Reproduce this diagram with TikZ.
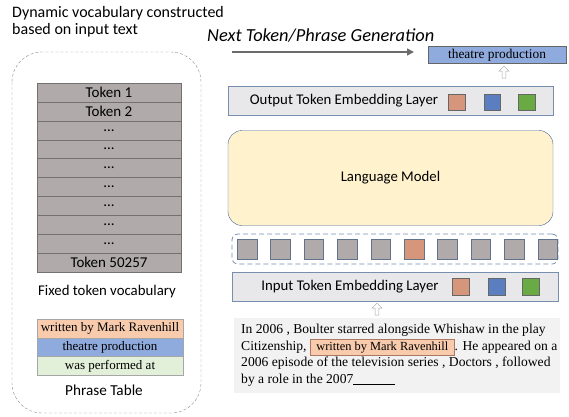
\documentclass[tikz,border=0pt]{standalone}
\usepackage{fontspec}
\setmainfont{Liberation Serif}
\newfontfamily\calibri{Carlito}
\usetikzlibrary{positioning,shapes.arrows,arrows.meta}
\definecolor{tokgray}{RGB}{176,171,170}
\definecolor{tokline}{RGB}{117,112,112}
\definecolor{phorange}{RGB}{248,203,173}
\definecolor{phblue}{RGB}{143,170,220}
\definecolor{phgreen}{RGB}{226,240,217}
\definecolor{sqorange}{RGB}{213,150,124}
\definecolor{sqblue}{RGB}{91,126,192}
\definecolor{sqgreen}{RGB}{106,170,68}
\definecolor{layerfill}{RGB}{232,232,234}
\definecolor{layerline}{RGB}{120,142,175}
\definecolor{lmfill}{RGB}{255,242,204}
\definecolor{lmline}{RGB}{65,100,150}
\definecolor{textfill}{RGB}{242,242,242}
\begin{document}
\begin{tikzpicture}[x=1pt, y=-1pt,
  tokrow/.style={draw=tokline, fill=tokgray, minimum width=144pt, minimum height=18.9pt, inner sep=0pt, outer sep=0pt, font=\calibri\fontsize{15}{16}\selectfont},
  phrow/.style={draw=gray!70, minimum width=146pt, minimum height=18.7pt, inner sep=0pt, outer sep=0pt, font=\fontsize{13}{14}\selectfont},
  layer/.style={draw=layerline, fill=layerfill, minimum width=325pt, minimum height=29pt, inner sep=0pt},
  sq/.style={draw=gray!80!black, minimum size=16.5pt, inner sep=0pt},
  seqsq/.style={draw=layerline!80!black, fill=tokgray, minimum size=19.5pt, inner sep=0pt},
  label/.style={font=\calibri\fontsize{14.8}{16}\selectfont},
  hollow/.style={single arrow, draw=gray!70, fill=white, shape border rotate=90, minimum height=12pt, minimum width=10pt, single arrow head extend=2pt, inner sep=1pt}
]
\useasboundingbox (0,0) rectangle (569,416);
% dynamic vocabulary
\node[anchor=north west, align=left, inner sep=0pt, font=\calibri\fontsize{16}{17.5}\selectfont] (title) at (12,6) {Dynamic vocabulary constructed\\based on input text};
\draw[gray!90, dash pattern=on 3pt off 2pt, rounded corners=30pt] (12,52) rectangle (201,413);
\node[tokrow] (tok1) at (109,92.5) {Token 1};
\node[tokrow, below=0pt of tok1] (tok2) {Token 2};
\node[tokrow, below=0pt of tok2] (dots1) {...};
\node[tokrow, below=0pt of dots1] (dots2) {...};
\node[tokrow, below=0pt of dots2] (dots3) {...};
\node[tokrow, below=0pt of dots3] (dots4) {...};
\node[tokrow, below=0pt of dots4] (dots5) {...};
\node[tokrow, below=0pt of dots5] (dots6) {...};
\node[tokrow, below=0pt of dots6] (dots7) {...};
\node[tokrow, below=0pt of dots7] (toklast) {Token 50257};
\node[label] (fixed) at (107,292) {Fixed token vocabulary};
\node[phrow, fill=phorange] (ph1) at (110,328.5) {written by Mark Ravenhill};
\node[phrow, fill=phblue, below=0pt of ph1] (ph2) {theatre production};
\node[phrow, fill=phgreen, below=0pt of ph2] (ph3) {was performed at};
\node[label, font=\calibri\fontsize{15.2}{16}\selectfont] (phtitle) at (104,390) {Phrase Table};
% generation
\node[anchor=west, inner sep=0pt, font=\calibri\itshape\fontsize{18.4}{19}\selectfont] (gen) at (207,36) {Next Token/Phrase Generation};
\coordinate (genL) at (232,52);
\coordinate (genR) at (414,52);
\draw[-{Triangle[length=7pt,width=7pt]}, line width=1.6pt, gray!85!black] (genL) -- (genR);
\node[draw=gray!80!black, fill=phblue, minimum width=138pt, minimum height=17pt, inner sep=0pt, font=\fontsize{13.4}{14}\selectfont] (next) at (497,55) {theatre production};
\node[hollow] (up1) at (504,73) {};
% output layer
\node[layer] (outlayer) at (390.5,101) {};
\node[label] (outtext) at (344,101) {Output Token Embedding Layer};
\node[sq, fill=sqorange] (outo) at (456.5,102) {};
\node[sq, fill=sqblue] (outb) at (492,102) {};
\node[sq, fill=sqgreen] (outg) at (526.5,102) {};
% language model
\node[draw=lmline, fill=lmfill, rounded corners=14pt, minimum width=325pt, minimum height=95pt, label] (lm) at (390.5,178) {Language Model};
% token sequence
\node[draw=layerline, dash pattern=on 5pt off 3pt, line width=0.8pt, rounded corners=6pt, minimum width=326pt, minimum height=30pt] (seq) at (395,249) {};
\node[seqsq] (s1) at (247,249) {};
\node[seqsq, right=13.5pt of s1] (s2) {};
\node[seqsq, right=13.5pt of s2] (s3) {};
\node[seqsq, right=13.5pt of s3] (s4) {};
\node[seqsq, right=13.5pt of s4] (s5) {};
\node[seqsq, right=13.5pt of s5, fill=sqorange] (s6) {};
\node[seqsq, right=13.5pt of s6] (s7) {};
\node[seqsq, right=13.5pt of s7] (s8) {};
\node[seqsq, right=13.5pt of s8] (s9) {};
\node[seqsq, right=13.5pt of s9] (s10) {};
% input layer
\node[layer, minimum width=326pt] (inlayer) at (395,286.5) {};
\node[label] (intext) at (350,287) {Input Token Embedding Layer};
\node[sq, fill=sqorange] (ino) at (460.5,286.5) {};
\node[sq, fill=sqblue] (inb) at (496.5,286.5) {};
\node[sq, fill=sqgreen] (ing) at (530.5,286.5) {};
\node[hollow] (up2) at (377,310) {};
% input text
\node[fill=textfill, minimum width=326pt, minimum height=75pt] (intextbox) at (397,355.5) {};
\node[anchor=north west, align=left, inner sep=0pt, font=\fontsize{13.6}{16.6}\selectfont] (para) at (241,324) {In 2006 , Boulter starred alongside Whishaw in the play\\
Citizenship, \setlength{\fboxsep}{2.5pt}\fcolorbox{sqorange!80!black}{phorange}{\fontsize{12.4}{14}\selectfont\hspace{3.5pt}written by Mark Ravenhill\hspace{3.5pt}}. He appeared on a\\
2006 episode of the television series , Doctors , followed\\
by a role in the 2007\rule[-1.5pt]{42pt}{1.2pt}};
\end{tikzpicture}
\end{document}
